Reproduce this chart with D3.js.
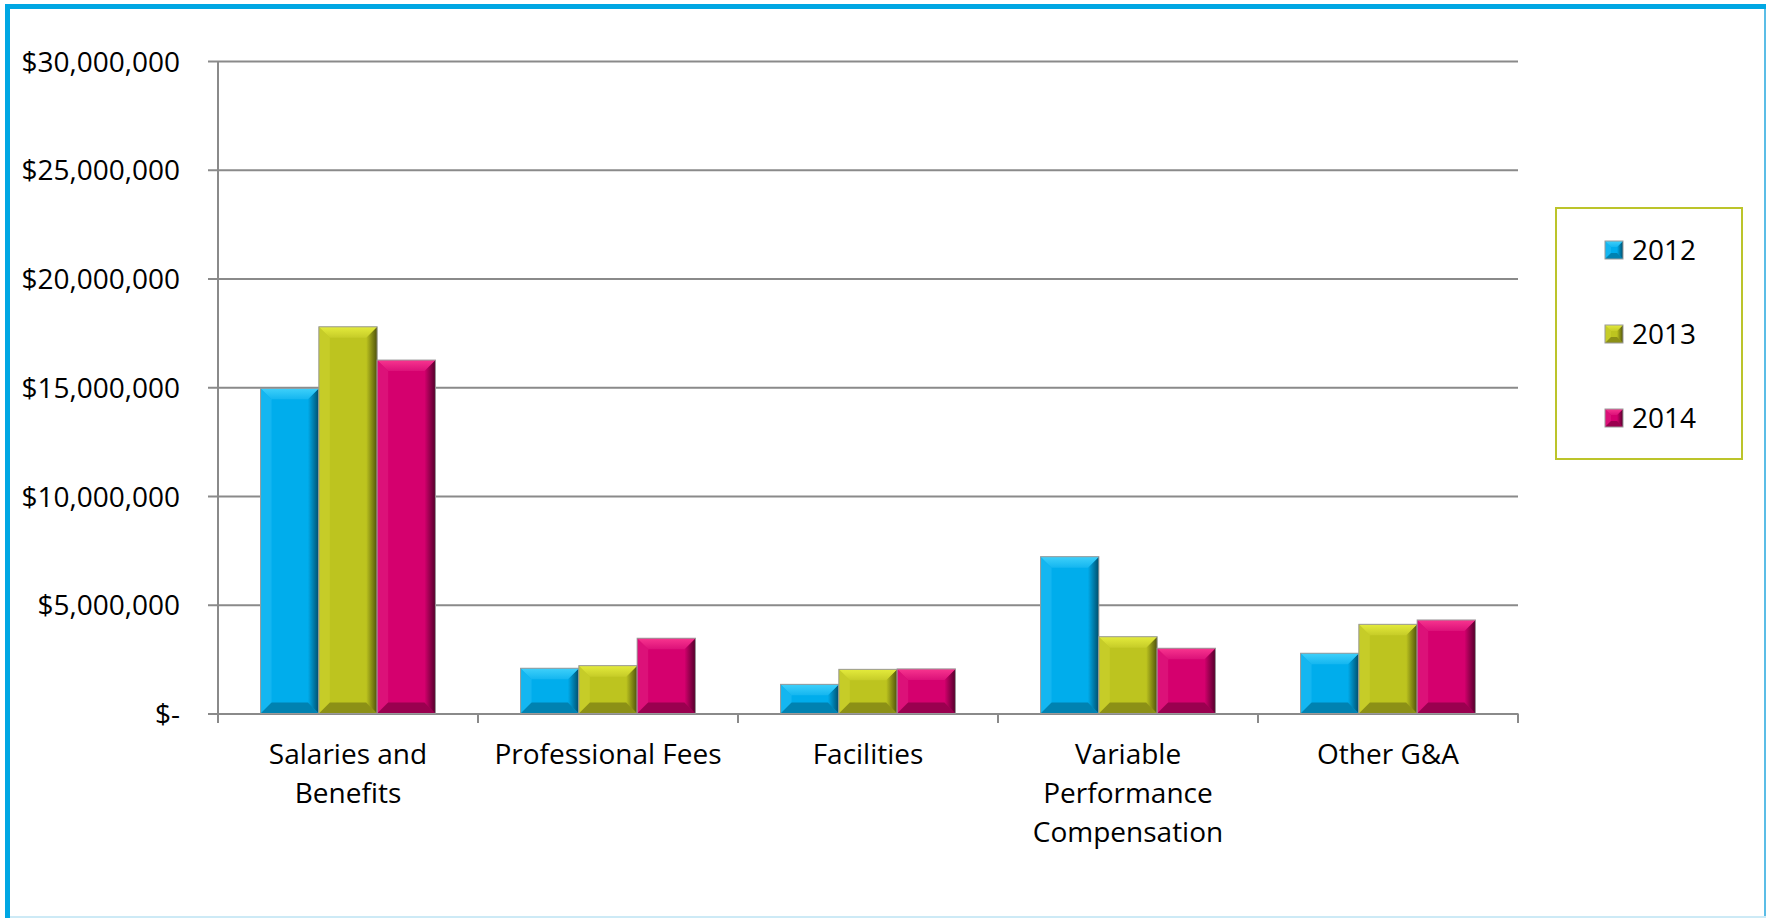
<!DOCTYPE html>
<html lang="en">
<meta charset="UTF-8">

<head>
    <title>G&A expenses by year</title>
    <script src="https://d3js.org/d3.v7.min.js"></script>
    <style>
        body { margin: 0; background: #fff; }
        text { font-family: "Open Sans", sans-serif; fill: #000; }
    </style>
</head>

<body>
    <div id="plot"></div>

    <script>
        // chart data
        var categories = ["Salaries and Benefits", "Professional Fees", "Facilities",
            "Variable Performance Compensation", "Other G&A"];
        var categoryLines = [["Salaries and", "Benefits"], ["Professional Fees"], ["Facilities"],
            ["Variable", "Performance", "Compensation"], ["Other G&A"]];
        var years = ["2012", "2013", "2014"];
        var values2012 = [14950000, 2080000, 1340000, 7210000, 2770000];
        var values2013 = [17780000, 2200000, 2030000, 3530000, 4100000];
        var values2014 = [16250000, 3460000, 2050000, 3000000, 4300000];
        var yTicks = [0, 5000000, 10000000, 15000000, 20000000, 25000000, 30000000];

        var series = [values2012, values2013, values2014];

        // base, light (top bevel), side (left bevel), dark (right/bottom bevel)
        var colors = {
            "2012": { base: "#00adec", light: "#3fd0fa", side: "#14b6f0", dark: "#004d6b" },
            "2013": { base: "#bdc41f", light: "#e4eb3c", side: "#c6cc28", dark: "#4f520b" },
            "2014": { base: "#d5006e", light: "#f8358f", side: "#dc1179", dark: "#52002a" }
        };

        var width = 1766,
            height = 918;

        var svg = d3.select('#plot').append('svg')
            .attr('width', width)
            .attr('height', height);

        // frame
        svg.append("rect").attr("x", 1764).attr("y", 4).attr("width", 2).attr("height", 914).attr("fill", "#5bbde6");
        svg.append("rect").attr("x", 5).attr("y", 916).attr("width", 1761).attr("height", 2).attr("fill", "#cdeaf6");
        svg.append("rect").attr("x", 5).attr("y", 4).attr("width", 1761).attr("height", 5).attr("fill", "#00a7e3");
        svg.append("rect").attr("x", 5).attr("y", 4).attr("width", 5).attr("height", 914).attr("fill", "#00a7e3");

        var y = d3.scaleLinear()
            .domain([0, 30000000])
            .range([713.5, 61]);

        var x0 = d3.scaleBand()
            .domain(categories)
            .range([218, 1518])
            .paddingInner(0);

        var x1 = d3.scaleBand()
            .domain(years)
            .range([0, x0.bandwidth()])
            .paddingInner(0)
            .paddingOuter(0.73);

        // gridlines + y axis
        var yAxis = d3.axisLeft(y)
            .tickValues(yTicks)
            .tickSize(-(1518 - 208))
            .tickPadding(28)
            .tickFormat(function (d) { return d === 0 ? "$-" : "$" + d3.format(",")(d); });

        var gy = svg.append("g")
            .attr("transform", "translate(208,0)")
            .call(yAxis);
        gy.select(".domain").remove();
        gy.selectAll(".tick line").attr("stroke", "#8a8a8a").attr("stroke-width", 2);
        gy.selectAll(".tick text")
            .style("font-size", "28px")
            .attr("dy", "0.36em");

        svg.append("line")
            .attr("x1", 218).attr("x2", 218)
            .attr("y1", 61).attr("y2", 723)
            .attr("stroke", "#8a8a8a").attr("stroke-width", 2);

        // category ticks
        var catEdges = categories.map(function (c) { return x0(c); }).concat([x0.range()[1]]);
        svg.selectAll("line.cat-tick")
            .data(catEdges.slice(1))
            .join("line")
            .attr("class", "cat-tick")
            .attr("x1", d => d).attr("x2", d => d)
            .attr("y1", y(0)).attr("y2", 723)
            .attr("stroke", "#8a8a8a").attr("stroke-width", 2);

        var defs = svg.append("defs");
        years.forEach(function (yr) {
            colors[yr].key = yr;
            var grad = defs.append("linearGradient").attr("id", "grad" + yr)
                .attr("x1", "0").attr("x2", "1").attr("y1", "0").attr("y2", "0");
            grad.append("stop").attr("offset", "0").attr("stop-color", colors[yr].base);
            grad.append("stop").attr("offset", "1").attr("stop-color", colors[yr].dark);
            var top = defs.append("linearGradient").attr("id", "top" + yr)
                .attr("x1", "0").attr("x2", "0").attr("y1", "0").attr("y2", "1");
            top.append("stop").attr("offset", "0").attr("stop-color", colors[yr].light);
            top.append("stop").attr("offset", "1").attr("stop-color", colors[yr].side);
        });

        // bevelled bar
        function drawBevel(g, bx, by, bw, bh, c, b) {
            b = Math.min(b, bw / 2, bh / 2);
            g.append("rect").attr("x", bx).attr("y", by).attr("width", bw).attr("height", bh)
                .attr("fill", c.base);
            // left
            g.append("polygon")
                .attr("points", [[bx, by], [bx + b, by + b], [bx + b, by + bh - b], [bx, by + bh]].join(" "))
                .attr("fill", c.side);
            // right
            g.append("polygon")
                .attr("points", [[bx + bw, by], [bx + bw - b, by + b], [bx + bw - b, by + bh - b], [bx + bw, by + bh]].join(" "))
                .attr("fill", "url(#grad" + c.key + ")");
            // bottom
            g.append("polygon")
                .attr("points", [[bx, by + bh], [bx + b, by + bh - b], [bx + bw - b, by + bh - b], [bx + bw, by + bh]].join(" "))
                .attr("fill", c.dark).attr("fill-opacity", 0.45);
            // top
            g.append("polygon")
                .attr("points", [[bx, by], [bx + bw, by], [bx + bw - b, by + b], [bx + b, by + b]].join(" "))
                .attr("fill", "url(#top" + c.key + ")");
            g.append("rect").attr("x", bx).attr("y", by).attr("width", bw).attr("height", bh)
                .attr("fill", "none").attr("stroke", "#9a9a9a").attr("stroke-width", 1);
        }

        // bars
        var barG = svg.append("g");
        categories.forEach(function (cat, i) {
            years.forEach(function (yr, j) {
                var v = series[j][i];
                var bx = x0(cat) + x1(yr);
                var by = y(v);
                drawBevel(barG, bx, by, x1.bandwidth(), y(0) - by, colors[yr], 11);
            });
        });

        // category labels
        var labels = svg.selectAll("text.cat")
            .data(categories)
            .join("text")
            .attr("class", "cat")
            .attr("text-anchor", "middle")
            .attr("y", 764)
            .style("font-size", "28px");
        labels.each(function (d, i) {
            var t = d3.select(this);
            categoryLines[i].forEach(function (line, k) {
                t.append("tspan")
                    .attr("x", x0(d) + x0.bandwidth() / 2)
                    .attr("y", 764 + k * 39)
                    .text(line);
            });
        });

        // legend
        var legend = svg.append("g");
        legend.append("rect")
            .attr("x", 1556).attr("y", 208)
            .attr("width", 186).attr("height", 251)
            .attr("fill", "#fff")
            .attr("stroke", "#bcc42a").attr("stroke-width", 2);

        var ly = d3.scalePoint().domain(years).range([250, 418]);
        years.forEach(function (yr) {
            var cy = ly(yr);
            drawBevel(legend, 1605, cy - 9, 18, 18, colors[yr], 6);
            legend.append("text")
                .attr("x", 1632)
                .attr("y", cy)
                .attr("dy", "0.36em")
                .style("font-size", "28px")
                .text(yr);
        });
    </script>
</body>

</html>
